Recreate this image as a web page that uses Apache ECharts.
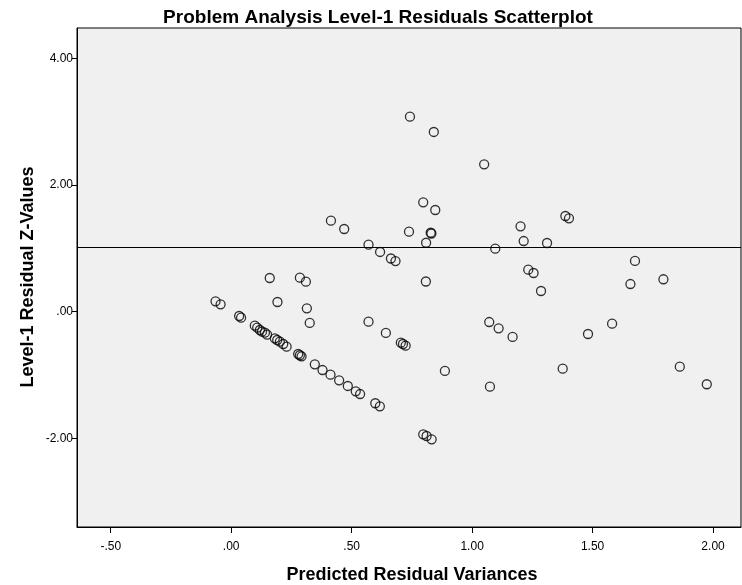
<!DOCTYPE html>
<html>
<head>
<meta charset="utf-8">
<script src="https://cdn.jsdelivr.net/npm/echarts@6/dist/echarts.min.js"></script>
<style>
html,body{margin:0;padding:0;background:#fff;}
#c{width:742px;height:585px;}
</style>
</head>
<body>
<div id="c"></div>
<script>
// Data
const predictedVariance = [
  -0.065,-0.044,0.033,0.041,0.098,0.108,0.119,0.128,0.140,0.149,
  0.181,0.191,0.202,0.216,0.230,0.278,0.285,0.292,0.347,0.379,
  0.412,0.448,0.484,0.517,0.535,0.598,0.617,0.797,0.811,0.832,
  0.160,0.285,0.310,0.192,0.314,0.326,0.570,0.642,0.704,0.713,
  0.724,0.887,1.071,1.110,1.168,1.074,1.286,1.376,1.233,1.255,
  1.096,1.201,1.214,1.311,1.387,1.402,0.742,0.841,1.050,0.797,
  0.847,0.738,0.828,0.831,0.809,0.808,0.414,0.469,0.570,0.618,
  0.663,0.682,1.676,1.657,1.794,1.581,1.481,1.862,1.974
];
const residualZ = [
  0.164,0.117,-0.068,-0.095,-0.221,-0.253,-0.289,-0.316,-0.332,-0.363,
  -0.420,-0.447,-0.474,-0.510,-0.553,-0.668,-0.688,-0.704,-0.831,-0.921,
  -0.995,-1.083,-1.173,-1.257,-1.300,-1.446,-1.494,-1.936,-1.963,-2.015,
  0.532,0.537,0.474,0.153,0.054,-0.178,-0.158,-0.336,-0.489,-0.510,
  -0.537,-0.936,-0.163,-0.262,-0.399,-1.184,0.327,-0.900,0.663,0.611,
  0.995,1.348,1.116,1.085,1.511,1.475,3.079,2.838,2.327,1.727,
  1.606,1.263,1.247,1.235,1.089,0.477,1.437,1.306,1.058,0.943,
  0.840,0.800,0.801,0.437,0.512,-0.189,-0.352,-0.868,-1.146
];
const xTicks = [-0.5, 0, 0.5, 1.0, 1.5, 2.0];
const yTicks = [-2, 0, 2, 4];
const referenceLine = [1.02];

const points = predictedVariance.map((x, i) => [x, residualZ[i]]);
const fmt = v => v.toFixed(2).replace(/^(-?)0\./, '$1.');
const FONT = '"Liberation Sans", Arial, sans-serif';

const chart = echarts.init(document.getElementById('c'), null, {renderer: 'canvas'});
chart.setOption({
  backgroundColor: '#ffffff',
  animation: false,
  title: {
    text: 'Problem Analysis Level-1 Residuals Scatterplot',
    left: 373, top: 3, textAlign: 'center',
    textStyle: {fontFamily: FONT, fontWeight: 'bold', fontSize: 19, color: '#000'}
  },
  grid: {
    left: 77, right: 1, top: 28, bottom: 58,
    containLabel: false, outerBoundsMode: 'none',
    show: true, backgroundColor: '#f0f0f0', borderColor: '#000', borderWidth: 1
  },
  graphic: [{
    type: 'text',
    x: 28, y: 277,
    rotation: Math.PI / 2,
    style: {
      text: 'Level-1 Residual Z-Values',
      fontFamily: FONT, fontWeight: 'bold', fontSize: 18, fill: '#000',
      align: 'center', verticalAlign: 'middle'
    }
  }],
  xAxis: {
    type: 'value', min: -0.64, max: 2.116,
    name: 'Predicted Residual Variances', nameLocation: 'middle', nameGap: 39,
    nameTextStyle: {fontFamily: FONT, fontWeight: 'bold', fontSize: 18, color: '#000', padding: [0,0,0,6]},
    axisLine: {show: true, onZero: false, lineStyle: {color: '#000', width: 1}},
    axisTick: {show: true, length: 6, customValues: xTicks, lineStyle: {color: '#000'}},
    axisLabel: {customValues: xTicks, formatter: fmt, fontFamily: FONT, fontSize: 12, color: '#000', margin: 14},
    splitLine: {show: false}
  },
  yAxis: {
    type: 'value', min: -3.40, max: 4.48,
    axisLine: {show: true, onZero: false, lineStyle: {color: '#000', width: 1}},
    axisTick: {show: true, length: 5, customValues: yTicks, lineStyle: {color: '#000'}},
    axisLabel: {customValues: yTicks, formatter: fmt, fontFamily: FONT, fontSize: 12, color: '#000', margin: 4},
    splitLine: {show: false}
  },
  series: [{
    type: 'scatter',
    data: points,
    symbol: 'circle',
    symbolSize: 9,
    itemStyle: {color: 'rgba(0,0,0,0)', borderColor: '#000', borderWidth: 1.3},
    markLine: {
      silent: true, symbol: 'none', animation: false,
      label: {show: false},
      lineStyle: {color: '#000', width: 1, type: 'solid'},
      data: referenceLine.map(v => ({yAxis: v}))
    }
  }]
});
</script>
</body>
</html>
